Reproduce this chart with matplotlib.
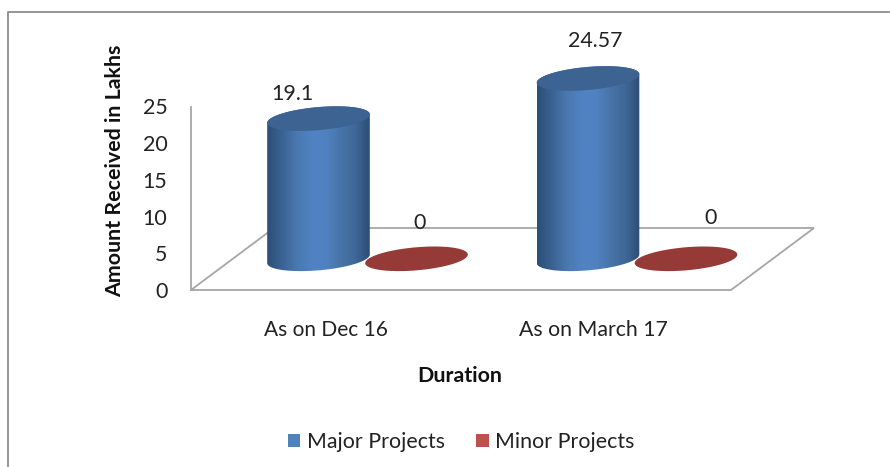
import numpy as np
import matplotlib
matplotlib.use("Agg")
import matplotlib.pyplot as plt
from matplotlib.colors import LinearSegmentedColormap
from matplotlib.patches import Polygon, Patch
from matplotlib.lines import Line2D

categories = ["As on Dec 16", "As on March 17"]
major_projects = [19.1, 24.57]
minor_projects = [0, 0]
value_labels_major = ["19.1", "24.57"]
value_labels_minor = ["0", "0"]
y_ticks = [0, 5, 10, 15, 20, 25]

W, H = 890, 467
FS = 15.4
TXT = "#222222"
plt.rcParams["font.family"] = ["Lato", "DejaVu Sans"]
fig = plt.figure(figsize=(W / 100, H / 100), dpi=100, facecolor="white")


def rect(l, t, r, b):
    return [l / W, 1 - b / H, (r - l) / W, (b - t) / H]


# plot frame in figure pixels
fig.add_artist(Line2D(np.array([8, 8, 889]) / W, 1 - np.array([467, 12, 12]) / H,
                      color="#8c8c8c", lw=1.3))

ax = fig.add_axes(rect(191, 106.5, 731, 290))
ax.patch.set_alpha(0)
SX = 269.5
SY = (290 - 106.5) / 25
XLIM = (-(318.5 - 191) / SX, (731 - 318.5) / SX)
YLIM = (0, 25)
for s in ("top", "right", "bottom"):
    ax.spines[s].set_visible(False)
ax.spines["left"].set_color("#a6a6a6")
ax.spines["left"].set_linewidth(1.3)

# floor of the pseudo-3D plot, given in pixels relative to the axes origin
DEPTH_X, DEPTH_Y = 83, 62
floor_x = np.array([0, 540, 540 + DEPTH_X, DEPTH_X]) / SX + XLIM[0]
floor_y = np.array([0, 0, DEPTH_Y, DEPTH_Y]) / SY
ax.add_patch(Polygon(np.c_[floor_x, floor_y], closed=True, fill=False, ec="#a6a6a6",
                     lw=1.3, clip_on=False, zorder=1))

ax.set_xticks(range(len(categories)))
ax.set_xticklabels([])
ax.set_yticks(y_ticks)
ax.tick_params(axis="y", length=0, pad=17, labelsize=FS, labelcolor=TXT)
ax.tick_params(axis="x", length=0)

BASE = 4.25            # depth lift of the bar bases, in value units
A, B = 51.5, 11.5      # ellipse semi-axes, pixels
TILT = np.deg2rad(5)
OFFSET = 98 / SX       # series offset
shade = LinearSegmentedColormap.from_list(
    "cyl", ["#2c4e78", "#3a6292", "#4a78af", "#5082c2", "#5082c2", "#4874a8", "#3f6898", "#2c4d75"])


def ellipse(cx, cy, t=np.linspace(0, 2 * np.pi, 181)):
    dx = A * np.cos(t) * np.cos(TILT) - B * np.sin(t) * np.sin(TILT)
    dy = A * np.cos(t) * np.sin(TILT) + B * np.sin(t) * np.cos(TILT)
    return cx + dx / SX, cy + dy / SY


def cylinder(cx, value):
    top = BASE + value
    x1, y1 = ellipse(cx, top)
    xb, yb = ellipse(cx, BASE, np.linspace(np.pi, 2 * np.pi, 91))
    xt, yt = ellipse(cx, top, np.linspace(0, np.pi, 91))
    sil = Polygon(np.c_[np.r_[xb, xt], np.r_[yb, yt]], closed=True, transform=ax.transData,
                  fc="none", ec="none", clip_on=False)
    ax.add_patch(sil)
    half = A / SX * 1.0
    im = ax.imshow(np.linspace(0, 1, 256)[None, :], cmap=shade, aspect="auto",
                   extent=(cx - half, cx + half, BASE - 3, top + 3), zorder=3,
                   interpolation="bilinear")
    im.set_clip_box(fig.bbox)
    im.set_clip_path(sil)
    ax.fill(x1, y1, color="#3c6391", zorder=4, lw=0, clip_on=False)


major_dx = [-0.095, 0.026]
major_dy = [3.3, 5.05]
minor_dx = [0.01, 0.09]
minor_dy = [4.9, 5.55]
cat_dx = [0.026, 0.02]
cat_fs = [15.0, 15.3]

for i, (maj, mnr) in enumerate(zip(major_projects, minor_projects)):
    cylinder(i, maj)
    x, y = ellipse(i + OFFSET, BASE + mnr)
    ax.fill(x, y, color="#953a37", zorder=5, lw=0, clip_on=False)
    ax.text(i + major_dx[i], BASE + maj + major_dy[i], value_labels_major[i], ha="center",
            va="center", fontsize=FS, color=TXT, clip_on=False, zorder=6)
    ax.text(i + OFFSET + minor_dx[i], BASE + mnr + minor_dy[i], value_labels_minor[i], ha="center",
            va="center", fontsize=FS, color=TXT, clip_on=False, zorder=6)
    ax.text(i + cat_dx[i], -5.5, categories[i], ha="center", va="center",
            fontsize=cat_fs[i], color=TXT, clip_on=False)

ax.set_xlim(*XLIM)
ax.set_ylim(*YLIM)

fig.text(115 / W, 1 - 171 / H, "Amount Received in Lakhs", rotation=90, ha="center", va="center",
         fontsize=FS, fontweight="bold", color="#111111")
fig.text(459.5 / W, 1 - 375.5 / H, "Duration", ha="center", va="center",
         fontsize=FS, fontweight="bold", color="#111111")

fig.legend(handles=[Patch(fc="#4f81bd", label="Major Projects"),
                    Patch(fc="#c0504d", label="Minor Projects")],
           loc="center", bbox_to_anchor=(461 / W, 1 - 442 / H), ncol=2, frameon=False,
           fontsize=FS, handlelength=0.6, handleheight=0.6, handletextpad=0.3,
           columnspacing=1.45, labelcolor=TXT)

fig.savefig("out.png", dpi=100)
